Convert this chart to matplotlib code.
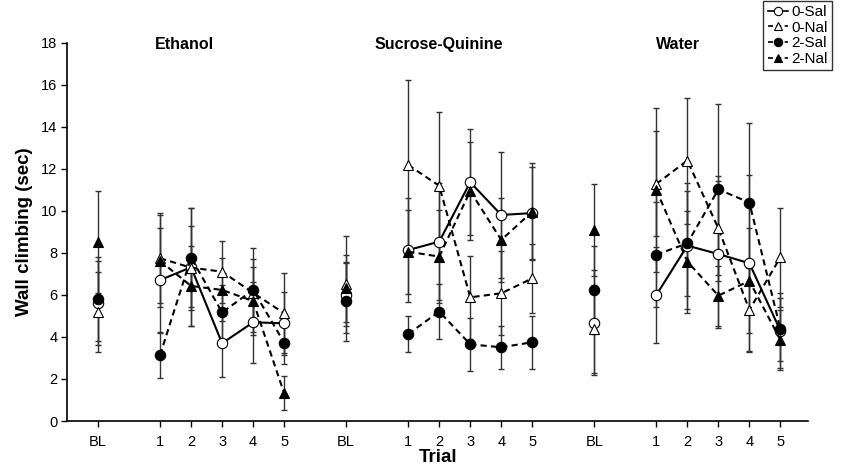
import matplotlib
matplotlib.use('Agg')
import matplotlib.pyplot as plt
from matplotlib.lines import Line2D

plt.rcParams['font.family'] = ['Liberation Sans', 'DejaVu Sans']

# trial labels and x positions (BL + trials 1-5 for each solution)
tick_labels = ['BL', '1', '2', '3', '4', '5'] * 3
x_pos = [0, 2, 3, 4, 5, 6, 8, 10, 11, 12, 13, 14, 16, 18, 19, 20, 21, 22]
groups = ['Ethanol', 'Sucrose-Quinine', 'Water']

# means (Ethanol, Sucrose-Quinine, Water), each BL,1..5
sal0 = [5.6, 6.71, 7.32, 3.70, 4.70, 4.65,
        6.0, 8.14, 8.54, 11.37, 9.81, 9.9,
        4.68, 6.0, 8.35, 7.95, 7.51, 4.3]
sal0_err = [2.0, 2.5, 2.8, 1.62, 1.92, 1.5,
            1.5, 2.46, 2.8, 2.52, 3.02, 2.2,
            2.5, 2.27, 3.0, 3.5, 4.18, 1.8]

nal0 = [5.2, 7.75, 7.3, 7.11, 6.1, 5.13,
        6.51, 12.19, 11.2, 5.89, 6.08, 6.79,
        4.38, 11.29, 12.4, 9.17, 5.29, 7.79]
nal0_err = [1.9, 2.15, 2.0, 1.48, 1.6, 1.9,
            2.3, 4.05, 3.53, 1.97, 2.0, 1.64,
            2.1, 2.5, 3.0, 2.5, 2.0, 2.37]

sal2 = [5.81, 3.14, 7.78, 5.17, 6.24, 3.73,
        5.71, 4.14, 5.21, 3.65, 3.51, 3.75,
        6.24, 7.92, 8.46, 11.03, 10.4, 4.38]
sal2_err = [2.0, 1.1, 2.35, 1.3, 2.0, 1.0,
            1.88, 0.85, 1.3, 1.27, 1.03, 1.27,
            2.1, 2.5, 2.5, 4.07, 3.77, 1.5]

nal2 = [8.54, 7.62, 6.43, 6.24, 5.71, 1.32,
        6.32, 8.06, 7.83, 10.95, 8.62, 9.97,
        9.1, 11.0, 7.59, 5.97, 6.67, 3.86]
nal2_err = [2.43, 2.2, 1.9, 1.5, 1.6, 0.8,
            1.6, 2.0, 2.2, 2.35, 2.0, 2.3,
            2.2, 3.89, 2.43, 1.43, 2.5, 1.43]

dash = (0, (3, 2))
series = [
    ('0-Sal', sal0, sal0_err, 'o', 'white', '-'),
    ('0-Nal', nal0, nal0_err, '^', 'white', dash),
    ('2-Sal', sal2, sal2_err, 'o', 'black', dash),
    ('2-Nal', nal2, nal2_err, '^', 'black', dash),
]

fig = plt.figure(figsize=(8.42, 4.67), dpi=100)
ax = fig.add_axes([0.0796, 0.0985, 0.8804, 0.8095])

handles = []
for k, (name, m, e, mk, fc, ls) in enumerate(series):
    ax.errorbar(x_pos, m, yerr=e, fmt='none', ecolor='#333333',
                elinewidth=1.0, capsize=2, capthick=1.0, zorder=2)
    for g in range(3):
        xs = x_pos[g * 6:(g + 1) * 6]
        ys = m[g * 6:(g + 1) * 6]
        # trials 1-5 joined, baseline on its own
        ax.plot(xs[1:], ys[1:], linestyle=ls, color='black', lw=1.5,
                zorder=3 + k)
        ax.plot(xs, ys, linestyle='none', marker=mk, markersize=7.5,
                markerfacecolor=fc, markeredgecolor='black',
                markeredgewidth=0.8, zorder=3 + k)
    handles.append(Line2D([], [], linestyle=ls, color='black', lw=1.2,
                          marker=mk, markersize=6, markerfacecolor=fc,
                          markeredgecolor='black', markeredgewidth=0.8,
                          label=name))

ax.set_xlim(-1, 22.9)
ax.set_ylim(0, 18)
ax.set_yticks(range(0, 19, 2))
ax.set_xticks(x_pos)
ax.set_xticklabels(tick_labels)
ax.tick_params(direction='out', length=4, width=1, labelsize=10.5, pad=6)
ax.tick_params(axis='y', pad=3)
for s in ['top', 'right']:
    ax.spines[s].set_visible(False)
for s in ['left', 'bottom']:
    ax.spines[s].set_linewidth(1.2)

ax.set_ylabel('Wall climbing (sec)', fontsize=13.5, fontweight='bold', labelpad=6)
ax.set_xlabel('Trial', fontsize=13.5, fontweight='bold', labelpad=0)

title_x = [2.8, 11.0, 18.7]
for tx, name in zip(title_x, groups):
    ax.text(tx, 17.95, name, ha='center', va='center', fontsize=11.5,
            fontweight='bold')

leg = fig.legend(handles=handles, loc='upper left',
                 bbox_to_anchor=(760 / 842, 1.005), frameon=True,
                 fancybox=False, edgecolor='black', fontsize=11,
                 handlelength=1.3, handletextpad=0.25, borderpad=0.3,
                 labelspacing=0.1, borderaxespad=0.2)
leg.get_frame().set_linewidth(1.0)

fig.savefig('out.png', dpi=100, facecolor='white')
